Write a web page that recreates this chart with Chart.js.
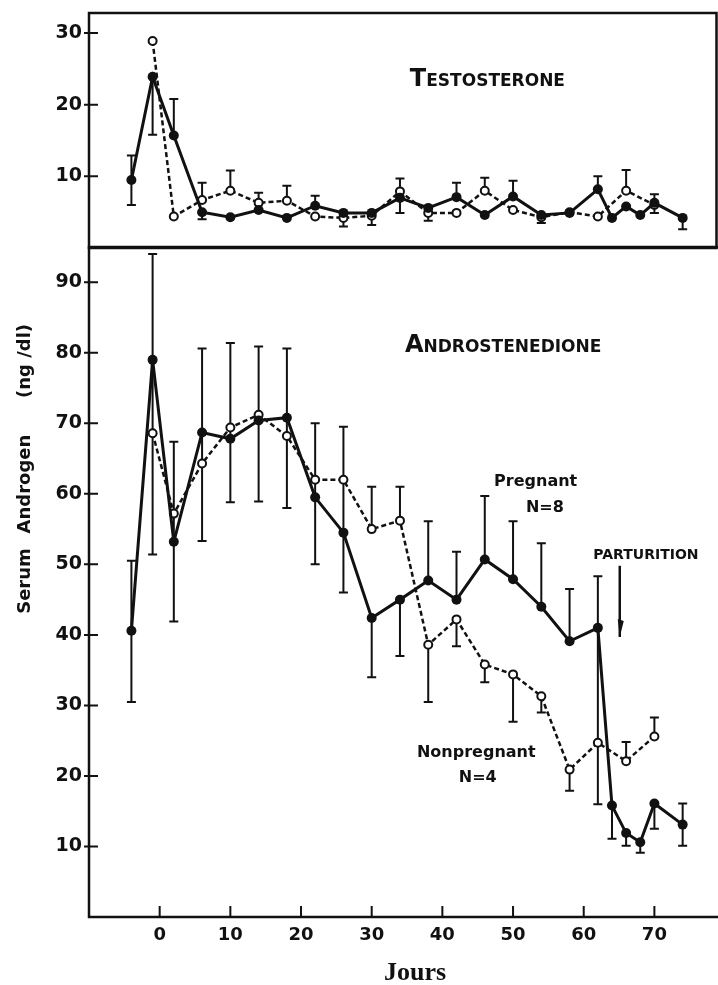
<!DOCTYPE html>
<html>
<head>
<meta charset="utf-8">
<script src="https://cdn.jsdelivr.net/npm/chart.js@4.4.0/dist/chart.umd.min.js"></script>
<style>
body { margin: 0; background: #fff; width: 718px; height: 985px; overflow: hidden; position: relative; }
#wrapTop { position: absolute; left: 0; top: 0; width: 718px; height: 250px; }
#wrapBot { position: absolute; left: 0; top: 240px; width: 718px; height: 745px; }
</style>
</head>
<body>
<div id="wrapBot"><canvas id="canvasBot"></canvas></div>
<div id="wrapTop"><canvas id="canvasTop"></canvas></div>
<script>
// jours d'echantillonnage
var pregDays = [-4, -1, 2, 6, 10, 14, 18, 22, 26, 30, 34, 38, 42, 46, 50, 54, 58, 62, 64, 66, 68, 70, 74];
var nonDays  = [-1, 2, 6, 10, 14, 18, 22, 26, 30, 34, 38, 42, 46, 50, 54, 58, 62, 66, 70];

// testosterone (ng/dl)
var pregTesto   = [9.5, 23.9, 15.7, 5.0, 4.3, 5.3, 4.2, 5.9, 4.9, 4.9, 7.0, 5.6, 7.1, 4.6, 7.2, 4.6, 4.9, 8.2, 4.2, 5.8, 4.6, 6.3, 4.2];
var pregTestoLo = [6.0, 15.8, null, 4.0, null, null, null, null, 3.0, 3.2, 4.9, 3.8, null, null, null, 3.5, null, null, null, null, null, 4.9, 2.6];
var pregTestoHi = [12.9, null, 20.8, null, null, null, null, 7.3, null, null, null, null, 9.1, null, 9.4, null, null, 10.0, null, null, null, 7.5, null];
var nonTesto    = [28.9, 4.4, 6.7, 8.0, 6.3, 6.6, 4.4, 4.2, 4.5, 7.9, 4.9, 4.9, 8.0, 5.3, 4.3, 5.0, 4.4, 8.0, 6.0];
var nonTestoLo  = [null, null, null, null, null, null, null, null, null, null, null, null, null, null, null, null, null, null, null];
var nonTestoHi  = [null, null, 9.1, 10.8, 7.7, 8.7, null, null, null, 9.7, null, null, 9.8, null, null, null, null, 10.9, null];

// androstenedione (ng/dl)
var pregAndro   = [40.6, 79.0, 53.2, 68.7, 67.8, 70.4, 70.8, 59.5, 54.5, 42.4, 45.0, 47.7, 45.0, 50.7, 47.9, 44.0, 39.1, 41.0, 15.8, 11.9, 10.6, 16.1, 13.1];
var pregAndroLo = [30.5, 51.4, 41.9, 53.3, 58.8, 58.9, 58.0, 50.0, 46.0, 34.0, 37.0, null, null, null, null, null, null, 16.0, 11.1, 10.1, 9.1, 12.5, 10.1];
var pregAndroHi = [50.5, 94.0, 67.4, 80.6, 81.4, 80.9, 80.6, 70.0, 69.5, null, null, 56.1, 51.8, 59.7, 56.1, 53.0, 46.5, 48.3, null, null, null, null, 16.1];
var nonAndro    = [68.6, 57.2, 64.3, 69.4, 71.2, 68.2, 62.0, 62.0, 55.0, 56.2, 38.6, 42.2, 35.8, 34.4, 31.3, 20.9, 24.7, 22.1, 25.6];
var nonAndroLo  = [null, null, null, null, null, null, null, null, null, null, 30.5, 38.4, 33.3, 27.7, 29.0, 17.9, null, null, null];
var nonAndroHi  = [null, null, null, null, null, null, null, null, 61.0, 61.0, null, null, null, null, null, null, null, 24.8, 28.3];

var xTicks = [0, 10, 20, 30, 40, 50, 60, 70];
var testoTicks = [10, 20, 30];
var androTicks = [10, 20, 30, 40, 50, 60, 70, 80, 90];

var INK = '#111';
var TICKFONT = { family: 'DejaVu Sans', size: 19, weight: 'bold' };

function pts(days, vals)
{
    var out = [];
    for (var i = 0; i < days.length; i++) out.push({ x: days[i], y: vals[i] });
    return out;
}

function keepTicks(list)
{
    return function(scale) {
        scale.ticks = list.map(function(v){ return { value: v }; });
    };
}

function smallCaps(ctx, text, x, y, big, small)
{
    ctx.font = 'bold ' + big + 'px "DejaVu Sans"';
    ctx.fillText(text[0], x, y);
    var w = ctx.measureText(text[0]).width;
    ctx.font = 'bold ' + small + 'px "DejaVu Sans"';
    ctx.fillText(text.slice(1), x + w, y);
}

var decor = {
    id: 'decor',
    beforeDatasetsDraw: function(chart, args, opts) {
        var ctx = chart.ctx, a = chart.chartArea;
        var xs = chart.scales.x, ys = chart.scales.y;
        ctx.save();
        ctx.strokeStyle = INK;
        ctx.lineWidth = 2.5;
        ctx.beginPath();
        if (opts.box) {
            ctx.rect(a.left, a.top, a.right - a.left - 1.5, a.bottom - a.top);
        } else {
            ctx.moveTo(a.right, a.top);
            ctx.lineTo(a.left, a.top);
            ctx.lineTo(a.left, a.bottom);
            ctx.lineTo(a.right, a.bottom);
        }
        ctx.stroke();

        ctx.lineWidth = 2;
        ctx.beginPath();
        ys.ticks.forEach(function(t){
            var py = ys.getPixelForValue(t.value);
            ctx.moveTo(a.left - 5, py);
            ctx.lineTo(a.left + 9, py);
        });
        if (opts.xTicks) {
            xs.ticks.forEach(function(t){
                var px = xs.getPixelForValue(t.value);
                ctx.moveTo(px, a.bottom);
                ctx.lineTo(px, a.bottom - 11);
            });
        }
        ctx.stroke();

        // barres d'erreur
        ctx.lineWidth = 2;
        ctx.beginPath();
        chart.data.datasets.forEach(function(ds){
            ds.data.forEach(function(p, i){
                var px = xs.getPixelForValue(p.x), py = ys.getPixelForValue(p.y);
                [ds.errLo[i], ds.errHi[i]].forEach(function(v){
                    if (v === null || v === undefined) return;
                    var ey = ys.getPixelForValue(v);
                    ctx.moveTo(px, py);
                    ctx.lineTo(px, ey);
                    ctx.moveTo(px - 4.5, ey);
                    ctx.lineTo(px + 4.5, ey);
                });
            });
        });
        ctx.stroke();
        ctx.restore();
    },
    afterDraw: function(chart, args, opts) {
        var ctx = chart.ctx;
        var xs = chart.scales.x, ys = chart.scales.y;
        ctx.save();
        ctx.fillStyle = INK;
        ctx.strokeStyle = INK;
        if (opts.caps) {
            ctx.textAlign = 'left';
            ctx.textBaseline = 'alphabetic';
            smallCaps(ctx, opts.caps.text, xs.getPixelForValue(opts.caps.x), ys.getPixelForValue(opts.caps.y), 24, 17);
        }
        (opts.notes || []).forEach(function(n){
            ctx.font = 'bold ' + n.size + 'px "DejaVu Sans"';
            ctx.textAlign = 'center';
            ctx.textBaseline = 'middle';
            ctx.fillText(n.text, xs.getPixelForValue(n.x), ys.getPixelForValue(n.y));
        });
        if (opts.arrow) {
            var px = xs.getPixelForValue(opts.arrow.x);
            var y1 = ys.getPixelForValue(opts.arrow.from), y2 = ys.getPixelForValue(opts.arrow.to);
            ctx.lineWidth = 2.5;
            ctx.beginPath();
            ctx.moveTo(px, y1);
            ctx.lineTo(px, y2);
            ctx.stroke();
            ctx.beginPath();
            ctx.moveTo(px - 2, y2 - 18);
            ctx.lineTo(px + 4, y2 - 16);
            ctx.lineTo(px, y2);
            ctx.closePath();
            ctx.fill();
        }
        if (opts.yTitle) {
            ctx.translate(25, 0);
            ctx.rotate(-Math.PI / 2);
            ctx.font = 'bold 18px "DejaVu Sans"';
            ctx.textAlign = 'center';
            ctx.textBaseline = 'middle';
            ctx.fillText('Serum', -341, 0);
            ctx.fillText('Androgen', -244, 0);
            ctx.fillText('(ng /dl)', -121, 0);
            ctx.setTransform(1, 0, 0, 1, 0, 0);
        }
        if (opts.xTitle) {
            ctx.font = 'bold 26px "Liberation Serif"';
            ctx.textAlign = 'center';
            ctx.textBaseline = 'alphabetic';
            ctx.fillText('Jours', 415, 740);
        }
        ctx.restore();
    }
};

function series(days, vals, lo, hi, filled)
{
    return {
        data: pts(days, vals),
        errLo: lo,
        errHi: hi,
        borderColor: INK,
        borderWidth: filled ? 3 : 2.5,
        borderDash: filled ? [] : [5, 3],
        backgroundColor: filled ? INK : '#fff',
        pointBackgroundColor: filled ? INK : '#fff',
        pointBorderColor: INK,
        pointBorderWidth: filled ? 0 : 2,
        pointRadius: filled ? 5 : 4,
        tension: 0,
        fill: false
    };
}

function noPad(s)
{
    s.paddingTop = 0;
    s.paddingBottom = 0;
    s.paddingLeft = 0;
    s.paddingRight = 0;
}

function yScale(min, max, ticks)
{
    return {
        type: 'linear',
        min: min,
        max: max,
        border: { display: false },
        grid: { display: false, drawTicks: false },
        ticks: { color: INK, font: TICKFONT, padding: 7 },
        afterBuildTicks: keepTicks(ticks),
        afterFit: function(s){ s.width = 89; noPad(s); }
    };
}

new Chart(document.getElementById('canvasTop'), {
    type: 'line',
    data: {
        datasets: [
            series(pregDays, pregTesto, pregTestoLo, pregTestoHi, true),
            series(nonDays, nonTesto, nonTestoLo, nonTestoHi, false)
        ]
    },
    options: {
        animation: false,
        responsive: true,
        maintainAspectRatio: false,
        layout: { autoPadding: false, padding: { top: 13, bottom: 2, left: 0, right: 0 } },
        scales: {
            x: { type: 'linear', min: -10, max: 79, display: false },
            y: yScale(0, 32.8, testoTicks)
        },
        plugins: {
            legend: { display: false },
            tooltip: { enabled: false },
            decor: { box: true, caps: { text: 'TESTOSTERONE', x: 35.4, y: 22.65 } }
        }
    },
    plugins: [decor]
});

new Chart(document.getElementById('canvasBot'), {
    type: 'line',
    data: {
        datasets: [
            series(pregDays, pregAndro, pregAndroLo, pregAndroHi, true),
            series(nonDays, nonAndro, nonAndroLo, nonAndroHi, false)
        ]
    },
    options: {
        animation: false,
        responsive: true,
        maintainAspectRatio: false,
        layout: { autoPadding: false, padding: { top: 7, bottom: 0, left: 0, right: 0 } },
        scales: {
            x: {
                type: 'linear',
                min: -10,
                max: 79,
                border: { display: false },
                grid: { display: false, drawTicks: false },
                ticks: { color: INK, font: { family: 'DejaVu Sans', size: 18, weight: 'bold' }, padding: 8, maxRotation: 0 },
                afterBuildTicks: keepTicks(xTicks),
                afterFit: function(s){ s.height = 68; noPad(s); }
            },
            y: yScale(0, 95, androTicks)
        },
        plugins: {
            legend: { display: false },
            tooltip: { enabled: false },
            decor: {
                box: false,
                xTicks: true,
                yTitle: true,
                xTitle: true,
                caps: { text: 'ANDROSTENEDIONE', x: 34.7, y: 80.1 },
                notes: [
                    { text: 'Pregnant', x: 53.2, y: 61.7, size: 16 },
                    { text: 'N=8', x: 54.5, y: 58.0, size: 16 },
                    { text: 'PARTURITION', x: 68.8, y: 51.3, size: 14 },
                    { text: 'Nonpregnant', x: 44.8, y: 23.3, size: 16 },
                    { text: 'N=4', x: 45.0, y: 19.7, size: 16 }
                ],
                arrow: { x: 65.1, from: 49.8, to: 39.7 }
            }
        }
    },
    plugins: [decor]
});
</script>
</body>
</html>
